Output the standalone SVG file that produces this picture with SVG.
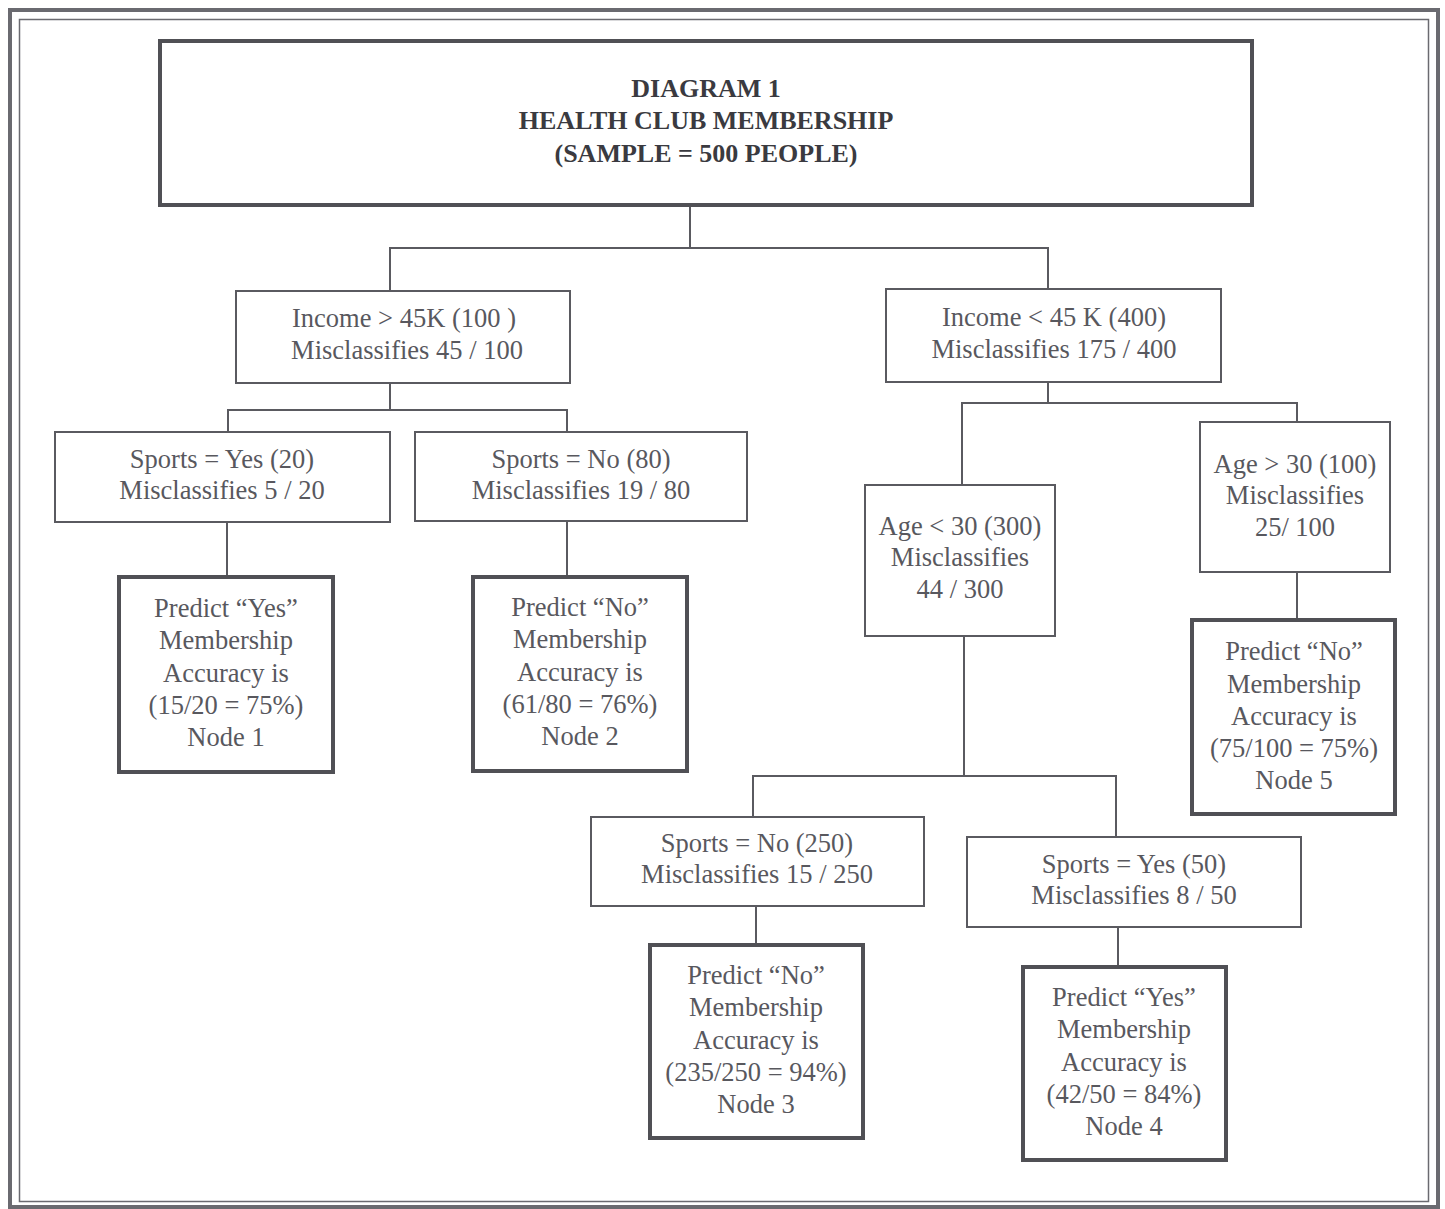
<svg xmlns="http://www.w3.org/2000/svg" width="1445" height="1209" viewBox="0 0 1445 1209">
<style>
.bx{fill:#fff;stroke:#5a5a60;stroke-width:2}
.bk{fill:#fff;stroke:#505055;stroke-width:4}
.t{font-family:"Liberation Serif","Times New Roman",serif;font-size:26.5px;fill:#58585e;text-anchor:middle}
.h{font-family:"Liberation Serif","Times New Roman",serif;font-size:26px;font-weight:bold;fill:#3a3a40;text-anchor:middle}
.c{fill:none;stroke:#5a5a60;stroke-width:2}
</style>
<rect x="0" y="0" width="1445" height="1209" fill="#fff"/>
<rect x="10" y="10" width="1428" height="1197" fill="none" stroke="#6a6a70" stroke-width="4"/>
<rect x="19.5" y="19.5" width="1409" height="1182" fill="none" stroke="#6a6a70" stroke-width="1.5"/>
<g id="connectors">
<path class="c" d="M690 205V248M390 291V248H1048V289"/>
<path class="c" d="M390 383V410M228 432V410H567V432"/>
<path class="c" d="M227 522V577M567 521V577"/>
<path class="c" d="M1048 382V403M962 485V403H1297V422"/>
<path class="c" d="M1297 572V620"/>
<path class="c" d="M964 636V776M753 817V776H1116V837"/>
<path class="c" d="M756 906V945M1118 927V967"/>
</g>
<g id="title">
<rect class="bk" x="160" y="41" width="1092" height="164"/>
<text class="h" x="706" y="97">DIAGRAM 1</text>
<text class="h" x="706" y="129">HEALTH CLUB MEMBERSHIP</text>
<text class="h" x="706" y="162">(SAMPLE = 500 PEOPLE)</text>
</g>
<g id="income-high">
<rect class="bx" x="236" y="291" width="334" height="92"/>
<text class="t" x="404" y="327">Income &gt; 45K (100 )</text>
<text class="t" x="407" y="359">Misclassifies 45 / 100</text>
</g>
<g id="income-low">
<rect class="bx" x="886" y="289" width="335" height="93"/>
<text class="t" x="1054" y="326">Income &lt; 45 K (400)</text>
<text class="t" x="1054" y="358">Misclassifies 175 / 400</text>
</g>
<g id="sports-yes-20">
<rect class="bx" x="55" y="432" width="335" height="90"/>
<text class="t" x="222" y="468">Sports = Yes (20)</text>
<text class="t" x="222" y="499">Misclassifies 5 / 20</text>
</g>
<g id="sports-no-80">
<rect class="bx" x="415" y="432" width="332" height="89"/>
<text class="t" x="581" y="468">Sports = No (80)</text>
<text class="t" x="581" y="499">Misclassifies 19 / 80</text>
</g>
<g id="node1">
<rect class="bk" x="119" y="577" width="214" height="195"/>
<text class="t" x="226" y="617">Predict “Yes”</text>
<text class="t" x="226" y="649">Membership</text>
<text class="t" x="226" y="682">Accuracy is</text>
<text class="t" x="226" y="714">(15/20 = 75%)</text>
<text class="t" x="226" y="746">Node 1</text>
</g>
<g id="node2">
<rect class="bk" x="473" y="577" width="214" height="194"/>
<text class="t" x="580" y="616">Predict “No”</text>
<text class="t" x="580" y="648">Membership</text>
<text class="t" x="580" y="681">Accuracy is</text>
<text class="t" x="580" y="713">(61/80 = 76%)</text>
<text class="t" x="580" y="745">Node 2</text>
</g>
<g id="age-low">
<rect class="bx" x="865" y="485" width="190" height="151"/>
<text class="t" x="960" y="535">Age &lt; 30 (300)</text>
<text class="t" x="960" y="566">Misclassifies</text>
<text class="t" x="960" y="598">44 / 300</text>
</g>
<g id="age-high">
<rect class="bx" x="1200" y="422" width="190" height="150"/>
<text class="t" x="1295" y="473">Age &gt; 30 (100)</text>
<text class="t" x="1295" y="504">Misclassifies</text>
<text class="t" x="1295" y="536">25/ 100</text>
</g>
<g id="node5">
<rect class="bk" x="1192" y="620" width="203" height="194"/>
<text class="t" x="1294" y="660">Predict “No”</text>
<text class="t" x="1294" y="693">Membership</text>
<text class="t" x="1294" y="725">Accuracy is</text>
<text class="t" x="1294" y="757">(75/100 = 75%)</text>
<text class="t" x="1294" y="789">Node 5</text>
</g>
<g id="sports-no-250">
<rect class="bx" x="591" y="817" width="333" height="89"/>
<text class="t" x="757" y="852">Sports = No (250)</text>
<text class="t" x="757" y="883">Misclassifies 15 / 250</text>
</g>
<g id="sports-yes-50">
<rect class="bx" x="967" y="837" width="334" height="90"/>
<text class="t" x="1134" y="873">Sports = Yes (50)</text>
<text class="t" x="1134" y="904">Misclassifies 8 / 50</text>
</g>
<g id="node3">
<rect class="bk" x="650" y="945" width="213" height="193"/>
<text class="t" x="756" y="984">Predict “No”</text>
<text class="t" x="756" y="1016">Membership</text>
<text class="t" x="756" y="1049">Accuracy is</text>
<text class="t" x="756" y="1081">(235/250 = 94%)</text>
<text class="t" x="756" y="1113">Node 3</text>
</g>
<g id="node4">
<rect class="bk" x="1023" y="967" width="203" height="193"/>
<text class="t" x="1124" y="1006">Predict “Yes”</text>
<text class="t" x="1124" y="1038">Membership</text>
<text class="t" x="1124" y="1071">Accuracy is</text>
<text class="t" x="1124" y="1103">(42/50 = 84%)</text>
<text class="t" x="1124" y="1135">Node 4</text>
</g>
</svg>
